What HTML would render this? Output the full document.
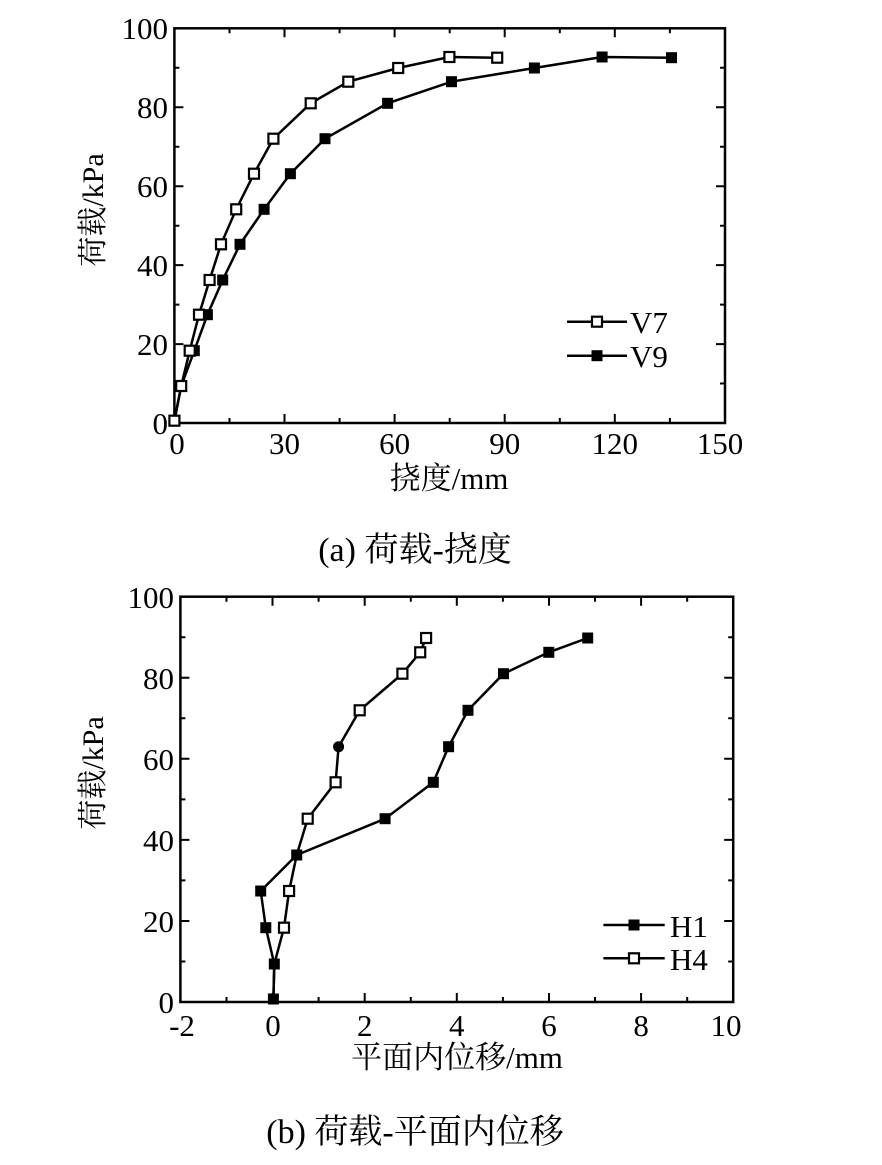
<!DOCTYPE html>
<html><head><meta charset="utf-8"><style>
html,body{margin:0;padding:0;background:#fff;}
svg text{font-family:"Liberation Serif","Noto Serif CJK SC","Noto Sans CJK SC",serif;fill:#000;}
</style></head><body>
<svg width="882" height="1160" viewBox="0 0 882 1160" xmlns="http://www.w3.org/2000/svg">
<defs>
<rect id="o" x="-5" y="-5" width="10" height="10" fill="#fff" stroke="#000" stroke-width="2.2"/>
<rect id="f" x="-5.5" y="-5.5" width="11" height="11" fill="#000"/>
</defs>
<!-- TOP CHART -->
<rect x="174.4" y="28.3" width="550.6" height="394.7" fill="none" stroke="#000" stroke-width="2.5"/>
<g stroke="#000" stroke-width="2">
<path d="M284.5 423v-9M394.6 423v-9M504.7 423v-9M614.8 423v-9M229.5 423v-5M339.6 423v-5M449.7 423v-5M559.8 423v-5M669.9 423v-5
M284.5 28.3v9M394.6 28.3v9M504.7 28.3v9M614.8 28.3v9M229.5 28.3v5M339.6 28.3v5M449.7 28.3v5M559.8 28.3v5M669.9 28.3v5
M174.4 344.1h9M174.4 265.1h9M174.4 186.2h9M174.4 107.2h9M174.4 383.5h5M174.4 304.6h5M174.4 225.7h5M174.4 146.7h5M174.4 67.8h5
M725 344.1h-9M725 265.1h-9M725 186.2h-9M725 107.2h-9M725 383.5h-5M725 304.6h-5M725 225.7h-5M725 146.7h-5M725 67.8h-5"/>
</g>
<g font-size="31" text-anchor="middle">
<text x="177" y="454">0</text><text x="284.5" y="454">30</text><text x="394.6" y="454">60</text><text x="504.7" y="454">90</text><text x="614.8" y="454">120</text><text x="720" y="454">150</text>
</g>
<g font-size="31" text-anchor="end">
<text x="168" y="434">0</text><text x="168" y="355">20</text><text x="168" y="276">40</text><text x="168" y="197">60</text><text x="168" y="118">80</text><text x="168" y="39">100</text>
</g>
<text x="449" y="489" font-size="31" text-anchor="middle">挠度/mm</text>
<text transform="translate(103,210) rotate(-90)" font-size="30" text-anchor="middle">荷载/kPa</text>
<polyline fill="none" stroke="#000" stroke-width="2.5" points="174.4,420.7 181.2,386 194.3,350.7 207.4,314.7 222.7,280 240,244.3 264.1,209.3 290.4,173.7 325,138.7 387.6,103.3 451.5,81.7 534.4,68 602.1,57 671.5,57.7"/>
<polyline fill="none" stroke="#000" stroke-width="2.5" points="174.4,420.7 181.2,386 189.7,350.7 199,314.7 209.6,280 221,244.3 236.2,209.3 254,173.7 273.4,138.7 310.7,103.3 348.3,81.7 398.2,68 449.4,57 497.2,57.7"/>
<g>
<use href="#f" x="174.4" y="420.7"/><use href="#f" x="194.3" y="350.7"/><use href="#f" x="207.4" y="314.7"/><use href="#f" x="222.7" y="280"/><use href="#f" x="240" y="244.3"/><use href="#f" x="264.1" y="209.3"/><use href="#f" x="290.4" y="173.7"/><use href="#f" x="325" y="138.7"/><use href="#f" x="387.6" y="103.3"/><use href="#f" x="451.5" y="81.7"/><use href="#f" x="534.4" y="68"/><use href="#f" x="602.1" y="57"/><use href="#f" x="671.5" y="57.7"/>
<use href="#o" x="174.4" y="420.7"/><use href="#o" x="181.2" y="386"/><use href="#o" x="189.7" y="350.7"/><use href="#o" x="199" y="314.7"/><use href="#o" x="209.6" y="280"/><use href="#o" x="221" y="244.3"/><use href="#o" x="236.2" y="209.3"/><use href="#o" x="254" y="173.7"/><use href="#o" x="273.4" y="138.7"/><use href="#o" x="310.7" y="103.3"/><use href="#o" x="348.3" y="81.7"/><use href="#o" x="398.2" y="68"/><use href="#o" x="449.4" y="57"/><use href="#o" x="497.2" y="57.7"/>
</g>
<path d="M567 321.7h60M567 355.7h60" stroke="#000" stroke-width="2.5"/>
<use href="#o" x="597" y="321.7"/><use href="#f" x="597" y="355.7"/>
<text x="630" y="333" font-size="31">V7</text><text x="630" y="367" font-size="31">V9</text>
<text x="415" y="561" font-size="34" text-anchor="middle">(a)  荷载-挠度</text>

<!-- BOTTOM CHART -->
<rect x="180.4" y="596.7" width="552.8" height="405.3" fill="none" stroke="#000" stroke-width="2.5"/>
<g stroke="#000" stroke-width="2">
<path d="M272.5 1002v-9M364.7 1002v-9M456.8 1002v-9M549 1002v-9M641.1 1002v-9M226.5 1002v-5M318.6 1002v-5M410.8 1002v-5M502.9 1002v-5M595 1002v-5M687.2 1002v-5
M272.5 596.7v9M364.7 596.7v9M456.8 596.7v9M549 596.7v9M641.1 596.7v9M226.5 596.7v5M318.6 596.7v5M410.8 596.7v5M502.9 596.7v5M595 596.7v5M687.2 596.7v5
M180.4 921h9M180.4 839.9h9M180.4 758.8h9M180.4 677.8h9M180.4 961.5h5M180.4 880.4h5M180.4 799.4h5M180.4 718.3h5M180.4 637.2h5
M733.2 921h-9M733.2 839.9h-9M733.2 758.8h-9M733.2 677.8h-9M733.2 961.5h-5M733.2 880.4h-5M733.2 799.4h-5M733.2 718.3h-5M733.2 637.2h-5"/>
</g>
<g font-size="31" text-anchor="middle">
<text x="182" y="1036">-2</text><text x="273" y="1036">0</text><text x="364.7" y="1036">2</text><text x="456.8" y="1036">4</text><text x="549" y="1036">6</text><text x="641.1" y="1036">8</text><text x="726" y="1036">10</text>
</g>
<g font-size="31" text-anchor="end">
<text x="174" y="1013">0</text><text x="174" y="932">20</text><text x="174" y="851">40</text><text x="174" y="770">60</text><text x="174" y="689">80</text><text x="174" y="608">100</text>
</g>
<text x="457" y="1068" font-size="31" text-anchor="middle">平面内位移/mm</text>
<text transform="translate(103,773) rotate(-90)" font-size="30" text-anchor="middle">荷载/kPa</text>
<polyline fill="none" stroke="#000" stroke-width="2.5" points="273.4,999 274.3,964 265.8,927.7 260.7,891 296.7,855 385.1,818.7 433.3,782.3 448.6,746.7 468,710.3 503.5,673.7 548.8,652.3 587.7,638"/>
<polyline fill="none" stroke="#000" stroke-width="2.5" points="273.4,999 274.3,964 284,927.7 289.1,891 296.7,855 307.7,818.7 335.6,782.3 338.6,746.7 359.7,710.3 402.4,673.7 420.2,652.3 426.1,638"/>
<g>
<use href="#f" x="273.4" y="999"/><use href="#f" x="274.3" y="964"/><use href="#f" x="265.8" y="927.7"/><use href="#f" x="260.7" y="891"/><use href="#f" x="296.7" y="855"/><use href="#f" x="385.1" y="818.7"/><use href="#f" x="433.3" y="782.3"/><use href="#f" x="448.6" y="746.7"/><use href="#f" x="468" y="710.3"/><use href="#f" x="503.5" y="673.7"/><use href="#f" x="548.8" y="652.3"/><use href="#f" x="587.7" y="638"/>
<use href="#o" x="284" y="927.7"/><use href="#o" x="289.1" y="891"/><use href="#o" x="307.7" y="818.7"/><use href="#o" x="335.6" y="782.3"/><circle cx="338.6" cy="746.7" r="5.5" fill="#000"/><use href="#o" x="359.7" y="710.3"/><use href="#o" x="402.4" y="673.7"/><use href="#o" x="420.2" y="652.3"/><use href="#o" x="426.1" y="638"/>
</g>
<path d="M603.4 925h61.3M603.4 958.3h61.3" stroke="#000" stroke-width="2.5"/>
<use href="#f" x="634" y="925"/><use href="#o" x="634" y="958.3"/>
<text x="670" y="937" font-size="31">H1</text><text x="670" y="970" font-size="31">H4</text>
<text x="415" y="1143" font-size="34" text-anchor="middle">(b)  荷载-平面内位移</text>
</svg>
</body></html>
